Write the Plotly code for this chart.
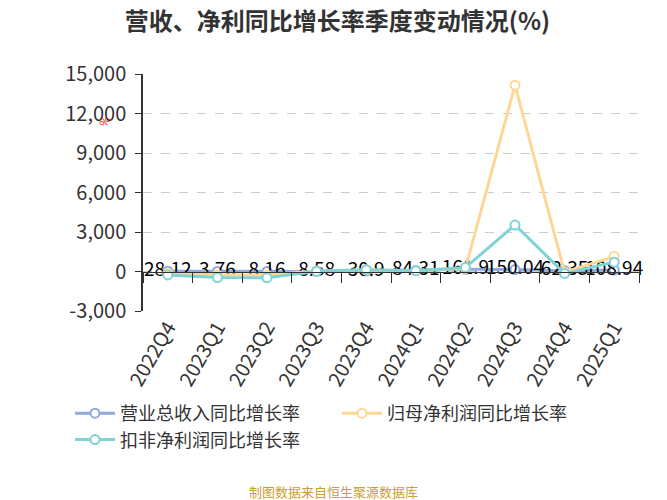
import plotly.graph_objects as go

quarters = ["2022Q4", "2023Q1", "2023Q2", "2023Q3", "2023Q4", "2024Q1", "2024Q2", "2024Q3", "2024Q4", "2025Q1"]
revenue_growth = [28.12, 3.76, 8.16, 8.58, 30.9, 84.31, 161.9, 150.04, 62.35, 108.94]
parent_np_growth = [-120, -260, -270, 40, 110, 60, 220, 14150, -60, 1150]
deducted_np_growth = [-260, -460, -480, 20, 140, 60, 300, 3530, -150, 710]

y_ticks = [-3000, 0, 3000, 6000, 9000, 12000, 15000]
y_tick_labels = ["-3,000", "0", "3,000", "6,000", "9,000", "12,000", "15,000"]

FONT = "Noto Sans CJK SC, Noto Sans, sans-serif"
C_BLUE = "#8fa8dd"
C_ORANGE = "#fed796"
C_CYAN = "#7fd3d6"

# page body adds an 8px offset; work in figure coordinates
OFF = 8
W, H = 667 - OFF, 500 - OFF
PL, PR, PT, PB = 143 - OFF, 639 - OFF, 74 - OFF, 311 - OFF

fig = go.Figure()

def add_series(name, ys, color, text=None):
    fig.add_trace(go.Scatter(
        x=quarters, y=ys, name=name,
        mode="lines+markers+text" if text else "lines+markers",
        line=dict(color=color, width=3),
        marker=dict(symbol="circle", size=9, color="white",
                    line=dict(color=color, width=2)),
        text=text, textposition="middle center",
        textfont=dict(family=FONT, size=19, color="#000000"),
        cliponaxis=False,
    ))

add_series("营业总收入同比增长率", revenue_growth, C_BLUE,
           [f"{v:g}" for v in revenue_growth])
add_series("归母净利润同比增长率", parent_np_growth, C_ORANGE)
add_series("扣非净利润同比增长率", deducted_np_growth, C_CYAN)

# invisible trace for the bottom label axis
fig.add_trace(go.Scatter(x=quarters, y=[0]*len(quarters), xaxis="x2",
                         mode="markers", marker=dict(opacity=0),
                         showlegend=False, hoverinfo="skip"))

pw, ph = PR - PL, PB - PT
def px_x(x):
    return (x - OFF - PL) / pw
def px_y(y):
    return (PB - (y - OFF)) / ph

ymin, ymax = -3000, 15000
fig.update_layout(
    width=W, height=H,
    paper_bgcolor="white", plot_bgcolor="white",
    margin=dict(l=PL, r=W - PR, t=PT, b=H - PB, autoexpand=False),
    font=dict(family=FONT, color="#333333", size=18),
    title=dict(text="<b>营收、净利同比增长率季度变动情况(%)</b>",
               x=0.5, xanchor="center", y=1 - 14 / H, yanchor="middle",
               font=dict(size=24, color="#333333", family=FONT)),
    xaxis=dict(type="category", anchor="free", position=(0 - ymin) / (ymax - ymin),
               showline=True, linecolor="#333333", linewidth=1,
               ticks="outside", ticklen=10, tickcolor="#333333", tickson="boundaries",
               showticklabels=False, showgrid=False, zeroline=False, automargin=False,
               range=[-0.5, len(quarters) - 0.5]),
    xaxis2=dict(type="category", overlaying="x", anchor="y", side="bottom",
                showline=False, ticks="", showgrid=False, zeroline=False, automargin=False,
                tickangle=-60, tickfont=dict(size=20, color="#333333"),
                range=[-0.5, len(quarters) - 0.5]),
    yaxis=dict(range=[ymin, ymax], tickvals=y_ticks, ticktext=y_tick_labels,
               showline=True, linecolor="#333333", linewidth=1.5,
               ticks="outside", ticklen=6, tickcolor="#333333", automargin=False,
               ticklabelstandoff=5,
               showgrid=True, gridcolor="#cccccc", griddash="dash", gridwidth=1,
               zeroline=False, tickfont=dict(size=20, color="#333333")),
    legend=dict(orientation="h", x=px_x(70), xanchor="left", y=px_y(395), yanchor="top",
                font=dict(size=18, color="#333333", family=FONT),
                itemwidth=40, tracegroupgap=0, entrywidth=212),
    annotations=[
        dict(text="%", xref="paper", yref="paper", x=px_x(92), y=px_y(110),
             showarrow=False, textangle=-60,
             font=dict(size=11, color="#ff0000", family=FONT)),
        dict(text="制图数据来自恒生聚源数据库", xref="paper", yref="paper",
             x=px_x(333.5), y=px_y(491), yanchor="middle",
             showarrow=False, font=dict(size=13, color="#c9a032", family=FONT)),
    ],
)

fig.write_html("out.html")
